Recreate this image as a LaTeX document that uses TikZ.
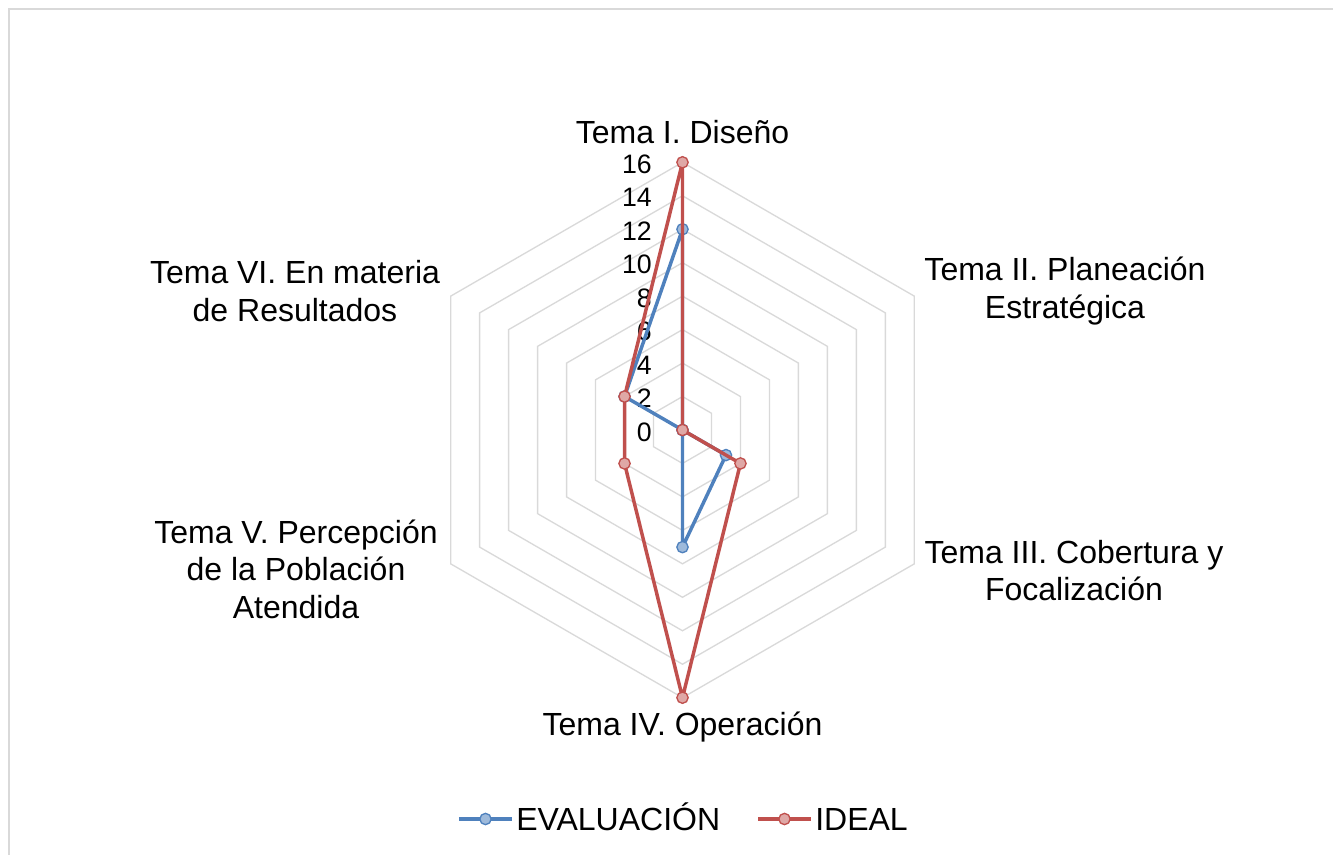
\documentclass[tikz,border=0pt]{standalone}
\usepackage{fontspec}
\setmainfont{Liberation Sans}
\usetikzlibrary{positioning}
\definecolor{gridgray}{HTML}{D9D9D9}
\definecolor{evalblue}{HTML}{4F81BD}
\definecolor{idealred}{HTML}{C0504D}
\tikzset{
	cat/.style={font=\fontsize{24}{28.2}\selectfont,align=center,inner sep=0pt},
	tick/.style={font=\fontsize{20}{22}\selectfont,anchor=east,inner sep=0pt},
	leg/.style={font=\fontsize{24}{26}\selectfont,inner sep=0pt,text height=17.2pt,text depth=0pt},
	evalline/.style={draw=evalblue,line width=2.6pt,line join=round},
	idealline/.style={draw=idealred,line width=2.6pt,line join=round},
	evalmark/.style={circle,draw=evalblue,fill=evalblue!55!white,line width=1pt,minimum size=8.5pt,inner sep=0pt},
	idealmark/.style={circle,draw=idealred,fill=idealred!50!white,line width=1pt,minimum size=8.5pt,inner sep=0pt}
}
\begin{document}
\begin{tikzpicture}[x=0.75pt,y=0.75pt]
		\def\ru{16.73}
		\useasboundingbox (-682.5,-425) rectangle (650.5,430);
		%Frame
		\draw[gridgray,line width=1.5pt] (-673.5,-425) -- (-673.5,421) -- (650.5,421);
		%Grid
		\foreach \k in {2,4,...,16}
			\draw[gridgray,line width=1pt] (90:\k*\ru) \foreach \a in {30,-30,-90,-150,150} {-- (\a:\k*\ru)} -- cycle;
		%Ticks
		\foreach \k in {0,2,...,16}
			\node[tick] (t\k) at (-30.5,\k*\ru-2) {\k};
		%EVALUACION
		\foreach \v [count=\i] in {12,0,3,7,0,4}
			\coordinate (e\i) at ({150-60*\i}:\v*\ru);
		\draw[evalline] (e1) -- (e2) -- (e3) -- (e4) -- (e5) -- (e6) -- cycle;
		\foreach \i in {1,...,6}
			\node[evalmark] (em\i) at (e\i) {};
		%IDEAL
		\foreach \v [count=\i] in {16,0,4,16,4,4}
			\coordinate (d\i) at ({150-60*\i}:\v*\ru);
		\draw[idealline] (d1) -- (d2) -- (d3) -- (d4) -- (d5) -- (d6) -- cycle;
		\foreach \i in {1,...,6}
			\node[idealmark] (dm\i) at (d\i) {};
		%Categories
		\node[cat] (c1) at (0,297.5) {Tema I. Diseño};
		\node[cat] (c2) at (382.5,139) {Tema II. Planeación\\Estratégica};
		\node[cat] (c3) at (391.5,-140.5) {Tema III. Cobertura y\\Focalización};
		\node[cat] (c4) at (0,-297) {Tema IV. Operación};
		\node[cat] (c5) at (-386.5,-139) {Tema V. Percepción\\de la Población\\Atendida};
		\node[cat] (c6) at (-387.5,139) {Tema VI. En materia\\de Resultados};
		%Legend
		\coordinate (l1) at (-223.5,-389);
		\draw[evalline] (l1) -- ++(53,0) coordinate (l1e);
		\node[evalmark] (lm1) at (-197,-389) {};
		\node[leg,right=3pt of l1e] (lt1) {EVALUACIÓN};
		\coordinate (l2) at (75.5,-389);
		\draw[idealline] (l2) -- ++(53,0) coordinate (l2e);
		\node[idealmark] (lm2) at (102,-389) {};
		\node[leg,right=3pt of l2e] (lt2) {IDEAL};
\end{tikzpicture}
\end{document}
